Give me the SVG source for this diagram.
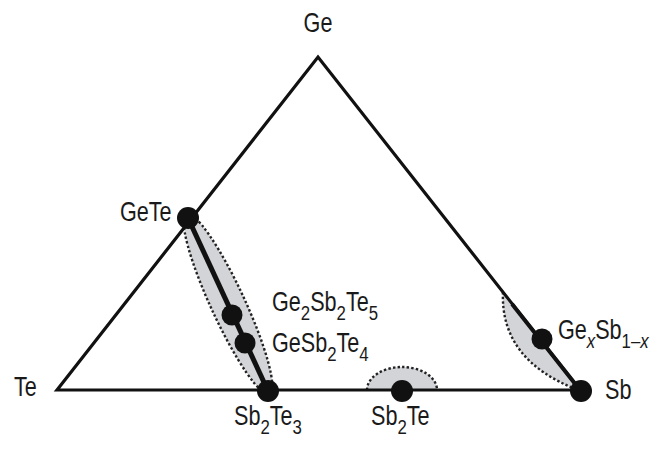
<svg xmlns="http://www.w3.org/2000/svg" width="660" height="449" viewBox="0 0 660 449">
<style>
.t{font-family:"Liberation Sans",Arial,sans-serif;font-size:27px;fill:#1a1a1a}
.s{font-size:21px}
.edge{fill:none;stroke:#111;stroke-width:3.2;stroke-linejoin:miter}
.thick{fill:none;stroke:#111;stroke-width:5}
.region{fill:#d2d4d8;stroke:#222;stroke-width:2.4;stroke-dasharray:2.4 2.2}
.dot{fill:#111}
</style>
<rect width="660" height="449" fill="#fff"/>
<g id="regions">
<ellipse class="region" cx="228" cy="304" rx="99" ry="17" transform="rotate(65.2 228 304)"/>
<path class="region" d="M503 292 Q500 360 578 390 Z" style="stroke:none"/>
<path class="region" d="M503 292 Q500 360 578 390" fill="none"/>
<path class="region" d="M367 390 A35 23 0 0 1 437 390 Z" style="stroke:none"/>
<path class="region" d="M367 390 A35 23 0 0 1 437 390" fill="none"/>
</g>
<g id="connectors">
<path class="edge" d="M57 390 L318 57 L580 390 Z"/>
<line class="thick" x1="188" y1="218" x2="268" y2="391"/>
<line class="thick" x1="512" y1="304" x2="580" y2="390" style="stroke-width:4"/>
</g>
<g id="Ge"><text class="t" transform="translate(318 32) scale(0.8 1)" text-anchor="middle">Ge</text></g>
<g id="Te"><text class="t" transform="translate(14 396) scale(0.8 1)">Te</text></g>
<g id="Sb"><circle class="dot" cx="581" cy="391" r="11"/><text class="t" transform="translate(605 399) scale(0.8 1)">Sb</text></g>
<g id="GeTe"><circle class="dot" cx="188" cy="218" r="11"/><text class="t" transform="translate(120 221) scale(0.8 1)">GeTe</text></g>
<g id="Ge2Sb2Te5"><circle class="dot" cx="232" cy="315" r="10.5"/><text class="t" transform="translate(272 311) scale(0.8 1)">Ge<tspan class="s" dy="9">2</tspan><tspan dy="-9">Sb</tspan><tspan class="s" dy="9">2</tspan><tspan dy="-9">Te</tspan><tspan class="s" dy="9">5</tspan></text></g>
<g id="GeSb2Te4"><circle class="dot" cx="245" cy="343" r="10.5"/><text class="t" transform="translate(272 352) scale(0.8 1)">GeSb<tspan class="s" dy="9">2</tspan><tspan dy="-9">Te</tspan><tspan class="s" dy="9">4</tspan></text></g>
<g id="Sb2Te3"><circle class="dot" cx="268" cy="391" r="11"/><text class="t" transform="translate(234 425) scale(0.8 1)">Sb<tspan class="s" dy="9">2</tspan><tspan dy="-9">Te</tspan><tspan class="s" dy="9">3</tspan></text></g>
<g id="Sb2Te"><circle class="dot" cx="402" cy="391" r="11"/><text class="t" transform="translate(371 425) scale(0.8 1)">Sb<tspan class="s" dy="9">2</tspan><tspan dy="-9">Te</tspan></text></g>
<g id="GexSb1-x"><circle class="dot" cx="542" cy="339" r="10.5"/><text class="t" transform="translate(558 339) scale(0.8 1)">Ge<tspan class="s" dy="9" font-style="italic">x</tspan><tspan dy="-9">Sb</tspan><tspan class="s" dy="9">1–<tspan font-style="italic">x</tspan></tspan></text></g>
</svg>
